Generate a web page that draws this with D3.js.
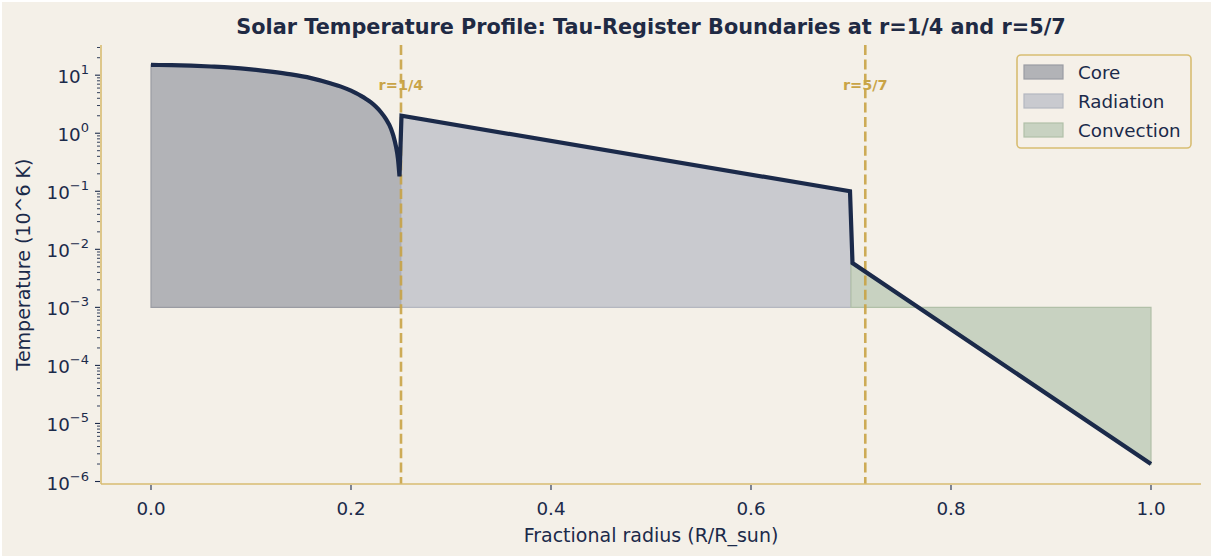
<!DOCTYPE html>
<html>
<head>
<meta charset="utf-8">
<script src="https://cdn.jsdelivr.net/npm/d3@7"></script>
<style>
  body { margin: 0; background: #ffffff; }
  text { font-family: "DejaVu Sans", sans-serif; }
</style>
</head>
<body>
<script>

// data
var core_r = [0, 0.02, 0.04, 0.06, 0.08, 0.10, 0.12, 0.14, 0.16, 0.18, 0.19, 0.20, 0.205, 0.21, 0.215, 0.22, 0.225, 0.23, 0.235, 0.24, 0.2425, 0.245, 0.247, 0.2485];
var core_T = [15, 14.9, 14.6, 14.1, 13.5, 12.6, 11.5, 10.3, 8.9, 7.2, 6.35, 5.4, 4.9, 4.4, 3.9, 3.4, 2.85, 2.3, 1.75, 1.2, 0.89, 0.59, 0.36, 0.18];
var rad_r = [0.2505, 0.699];
var rad_T = [2.0, 0.1];
var conv_r = [0.7015, 1.0];
var conv_T = [0.0058, 2.0e-6];

var zone_names = ["Core", "Radiation", "Convection"];
var zone_fill = ["#b2b3b7", "#c9cacf", "#c8d2c1"];
var zone_edge = ["#9a9ca3", "#b4b7c0", "#b1c0a8"];
var fill_base = 1e-3;

var boundaries = [0.25, 5/7];
var boundary_labels = ["r=1/4", "r=5/7"];

var x_ticks = [0, 0.2, 0.4, 0.6, 0.8, 1.0];
var y_ticks = [-6, -5, -4, -3, -2, -1, 0, 1];

// layout
var W = 1211, H = 556;
var plot_l = 101, plot_r = 1201, plot_t = 45, plot_b = 484;
var bg = "#f4f0e8";
var navy = "#1b2a4a";
var gold = "#c9a447";
var spine_col = "#d8bd72";
var fs = "18.3px";
var label_fs = "19px";

var svg = d3.select("body").append("svg")
    .attr("width", W).attr("height", H);

svg.append("rect")
    .attr("x", 2).attr("y", 2).attr("width", W - 2).attr("height", H - 2)
    .style("fill", bg);

var x = d3.scaleLinear().domain([-0.05, 1.05]).range([plot_l, plot_r]);
var y = d3.scaleLog().domain([Math.pow(10, -6.043), Math.pow(10, 1.52)]).range([plot_b, plot_t]);

function pts(rs, Ts) {
  return rs.map(function(r, i) { return [r, Ts[i]]; });
}
var core_pts = pts(core_r, core_T);
var rad_pts = pts(rad_r, rad_T);
var conv_pts = pts(conv_r, conv_T);

// fill areas need to reach the zone edges
var zone_pts = [
  core_pts.concat([[0.25, core_T[core_T.length - 1]]]),
  [[0.25, rad_T[0]]].concat(rad_pts).concat([[0.7, rad_T[1]]]),
  [[0.7, conv_T[0]]].concat(conv_pts)
];

var area = d3.area()
    .x(function(d) { return x(d[0]); })
    .y0(y(fill_base))
    .y1(function(d) { return y(d[1]); });

zone_pts.forEach(function(p, i) {
  svg.append("path")
      .attr("d", area.curve(i == 0 ? d3.curveMonotoneX : d3.curveLinear)(p))
      .style("fill", zone_fill[i])
      .style("stroke", zone_edge[i])
      .style("stroke-width", 1.2);
});

// boundary lines
boundaries.forEach(function(b, i) {
  svg.append("line")
      .attr("x1", x(b)).attr("x2", x(b))
      .attr("y1", plot_t).attr("y2", plot_b)
      .style("stroke", gold).style("stroke-width", 2.6)
      .style("stroke-dasharray", "10,4.4")
      .style("opacity", 0.9);
  svg.append("text")
      .attr("x", x(b)).attr("y", 90)
      .attr("text-anchor", "middle")
      .style("font-size", "14.5px").style("font-weight", "bold")
      .style("fill", gold)
      .text(boundary_labels[i]);
});

// profile line: smooth through the core, straight after
var core_line = d3.line()
    .x(function(d) { return x(d[0]); })
    .y(function(d) { return y(d[1]); })
    .curve(d3.curveMonotoneX)(core_pts);
var rest = rad_pts.concat(conv_pts).map(function(d) {
  return "L" + x(d[0]) + "," + y(d[1]);
}).join("");
svg.append("path")
    .attr("d", core_line + rest)
    .style("fill", "none")
    .style("stroke", navy)
    .style("stroke-width", 4.2)
    .style("stroke-linejoin", "miter");

// spines
svg.append("line")
    .attr("x1", plot_l).attr("x2", plot_l).attr("y1", plot_t).attr("y2", plot_b)
    .style("stroke", spine_col).style("stroke-width", 1.6);
svg.append("line")
    .attr("x1", plot_l).attr("x2", plot_r).attr("y1", plot_b).attr("y2", plot_b)
    .style("stroke", spine_col).style("stroke-width", 1.6);

// x ticks
x_ticks.forEach(function(t) {
  svg.append("line")
      .attr("x1", x(t)).attr("x2", x(t))
      .attr("y1", plot_b + 1).attr("y2", plot_b + 6)
      .style("stroke", navy).style("stroke-width", 1.1);
  svg.append("text")
      .attr("x", x(t)).attr("y", plot_b + 31)
      .attr("text-anchor", "middle")
      .style("font-size", fs).style("fill", navy)
      .text(d3.format(".1f")(t));
});

// y ticks (log)
var ymin = y.domain()[0], ymax = y.domain()[1];
for (var e = -7; e <= 1; e++) {
  for (var m = 2; m <= 9; m++) {
    var v = m * Math.pow(10, e);
    if (v < ymin || v > ymax) continue;
    svg.append("line")
        .attr("x1", plot_l - 1).attr("x2", plot_l - 4)
        .attr("y1", y(v)).attr("y2", y(v))
        .style("stroke", navy).style("stroke-width", 0.9);
  }
}
y_ticks.forEach(function(e) {
  var v = Math.pow(10, e);
  svg.append("line")
      .attr("x1", plot_l - 1).attr("x2", plot_l - 6)
      .attr("y1", y(v)).attr("y2", y(v))
      .style("stroke", navy).style("stroke-width", 1.1);
  var t = svg.append("text")
      .attr("x", plot_l - 12).attr("y", y(v) + 8)
      .attr("text-anchor", "end")
      .style("font-size", fs).style("fill", navy);
  t.append("tspan").text("10");
  t.append("tspan")
      .attr("dy", -9)
      .style("font-size", "13px")
      .text(e < 0 ? "\u2212" + Math.abs(e) : String(e));
});

// axis labels
svg.append("text")
    .attr("x", (plot_l + plot_r) / 2).attr("y", 542)
    .attr("text-anchor", "middle")
    .style("font-size", label_fs).style("fill", navy)
    .text("Fractional radius (R/R_sun)");
svg.append("text")
    .attr("transform", "translate(30," + ((plot_t + plot_b) / 2) + ") rotate(-90)")
    .attr("text-anchor", "middle")
    .style("font-size", label_fs).style("fill", navy)
    .text("Temperature (10^6 K)");

// title
svg.append("text")
    .attr("x", (plot_l + plot_r) / 2).attr("y", 34)
    .attr("text-anchor", "middle")
    .style("font-size", "20.8px").style("font-weight", "bold")
    .style("fill", "#1f2a44")
    .text("Solar Temperature Profile: Tau-Register Boundaries at r=1/4 and r=5/7");

// legend
var lg = svg.append("g");
lg.append("rect")
    .attr("x", 1017).attr("y", 55).attr("width", 174).attr("height", 93)
    .attr("rx", 4)
    .style("fill", bg).style("fill-opacity", 0.85)
    .style("stroke", spine_col).style("stroke-width", 1.6);
zone_names.forEach(function(n, i) {
  var cy = 72 + i * 29;
  lg.append("rect")
      .attr("x", 1024).attr("y", cy - 7).attr("width", 39).attr("height", 14)
      .style("fill", zone_fill[i])
      .style("stroke", zone_edge[i]).style("stroke-width", 1.2);
  lg.append("text")
      .attr("x", 1078).attr("y", cy + 6.5)
      .style("font-size", fs).style("fill", navy)
      .text(n);
});

</script>
</body>
</html>
